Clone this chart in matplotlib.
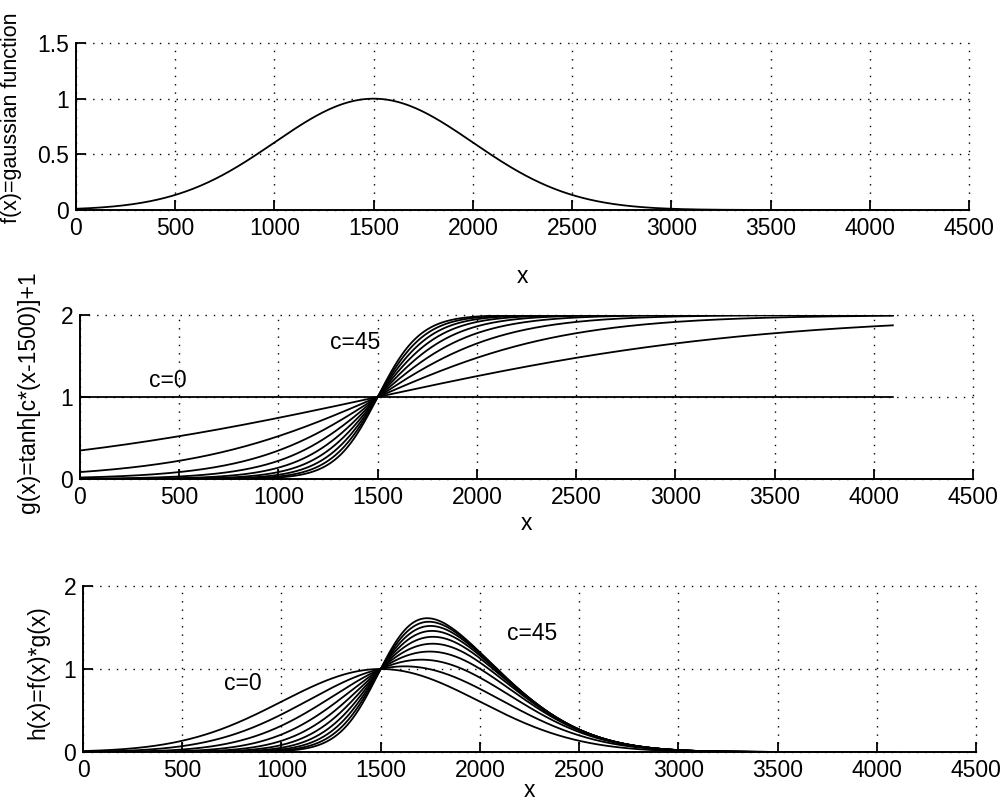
import numpy as np
import matplotlib
matplotlib.use("Agg")
import matplotlib.pyplot as plt

plt.rcParams['font.family'] = ['Liberation Sans', 'DejaVu Sans']
FS = 16.5
plt.rcParams['font.size'] = FS

# ---- data ----
x_ticks = [0, 500, 1000, 1500, 2000, 2500, 3000, 3500, 4000, 4500]
f_yticks = [0, 0.5, 1, 1.5]
f_yticklabels = ["0", "0.5", "1", "1.5"]
g_yticks = [0, 1, 2]
h_yticks = [0, 1, 2]
c_values = [0, 5, 10, 15, 20, 25, 30, 35, 40, 45]
gauss_center = 1500.0
gauss_sigma = 500.0
gauss_peak = 1.0
tanh_center = 1500.0
c_scale = 1.04e-4     # effective slope per unit of c
x_start, x_end = 0, 4096

x = np.arange(x_start, x_end + 1, 4.0)
f = gauss_peak * np.exp(-0.5 * ((x - gauss_center) / gauss_sigma) ** 2)

fig = plt.figure(figsize=(10.08, 8.02), dpi=100)
W, H = 1008.0, 802.0

def make_ax(left, right, top, bottom):
    return fig.add_axes([left / W, 1 - bottom / H, (right - left) / W, (bottom - top) / H])

ax1 = make_ax(76, 969, 43, 210)
ax2 = make_ax(80, 973, 315, 479)
ax3 = make_ax(83, 976, 586, 752)

grid_style = dict(color='black', linestyle=(0, (1, 5)), linewidth=1.0)
LW = 1.3

def style(ax, yticks, ylim, xlabel_y, yticklabels=None):
    ax.set_xlim(0, 4500)
    ax.set_ylim(*ylim)
    ax.set_xticks(x_ticks)
    ax.set_xticklabels([str(t) for t in x_ticks])
    ax.set_yticks(yticks)
    if yticklabels is not None:
        ax.set_yticklabels(yticklabels)
    else:
        ax.set_yticklabels([str(t) for t in yticks])
    ax.spines['top'].set_visible(False)
    ax.spines['right'].set_visible(False)
    ax.spines['left'].set_linewidth(1.4)
    ax.spines['bottom'].set_linewidth(1.4)
    ax.tick_params(direction='in', length=7, width=1.3, top=False, right=False,
                   labelsize=FS, pad=5)
    ax.grid(True, **grid_style)
    for gl in ax.get_xgridlines() + ax.get_ygridlines():
        gl.set_clip_on(False)
    ax.set_axisbelow(True)
    ax.set_xlabel('x', fontsize=FS)
    ax.xaxis.set_label_coords(0.5, xlabel_y)
    ax.xaxis.label.set_verticalalignment('center')

# Panel 1
ax1.plot(x, f, color='black', linewidth=LW)
style(ax1, f_yticks, (0, 1.5), -0.40, f_yticklabels)
ax1.set_ylabel('f(x)=gaussian function', fontsize=15.5)
ax1.yaxis.set_label_coords(-0.061, 0.55)

# Panel 2
for c in c_values:
    g = np.tanh(c * c_scale * (x - tanh_center)) + 1
    ax2.plot(x, g, color='black', linewidth=LW)
style(ax2, g_yticks, (0, 2), -0.27)
ax2.set_ylabel('g(x)=tanh[c*(x-1500)]+1', fontsize=FS)
ax2.yaxis.set_label_coords(-0.045, 0.53)
ax2.text(440, 1.2, 'c=0', ha='center', va='center', fontsize=FS)
ax2.text(1386, 1.67, 'c=45', ha='center', va='center', fontsize=FS)

# Panel 3
for c in c_values:
    g = np.tanh(c * c_scale * (x - tanh_center)) + 1
    ax3.plot(x, f * g, color='black', linewidth=LW)
style(ax3, h_yticks, (0, 2), -0.23)
ax3.set_ylabel('h(x)=f(x)*g(x)', fontsize=FS)
ax3.yaxis.set_label_coords(-0.038, 0.48)
ax3.text(806, 0.83, 'c=0', ha='center', va='center', fontsize=FS)
ax3.text(2263, 1.43, 'c=45', ha='center', va='center', fontsize=FS)

fig.savefig('out.png', dpi=100)
